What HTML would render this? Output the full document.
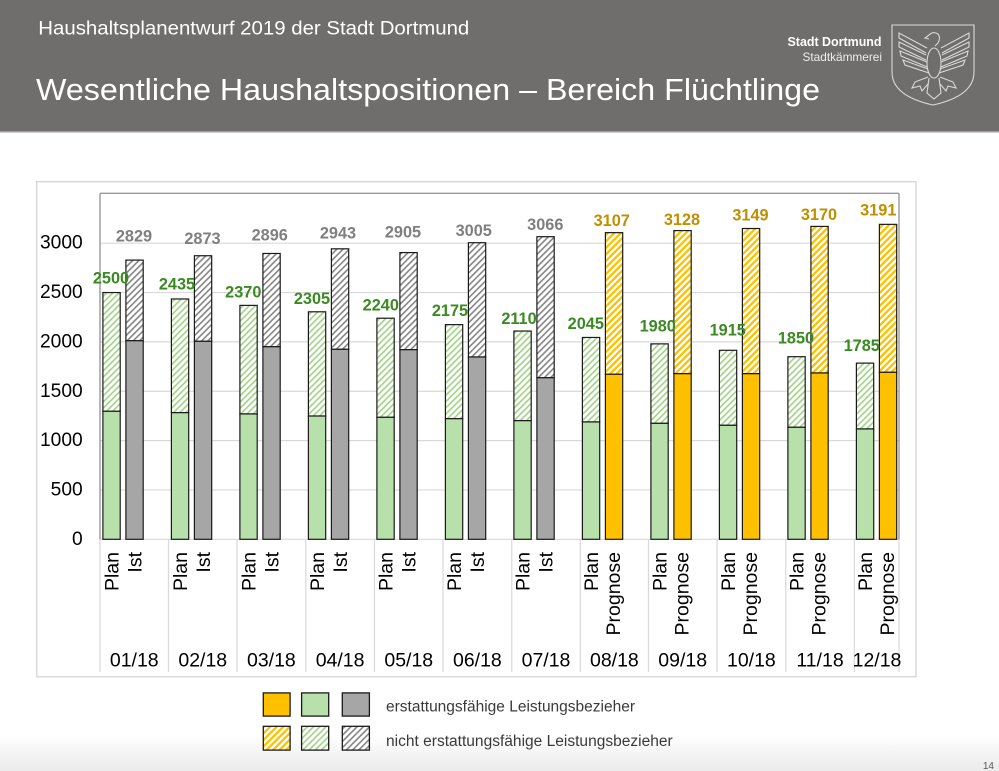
<!DOCTYPE html>
<html>
<head>
<meta charset="utf-8">
<style>
html,body{margin:0;padding:0;background:#fff;}
body{width:999px;height:771px;overflow:hidden;}
svg{display:block;}
text{font-family:"Liberation Sans",Arial,sans-serif;}
</style>
</head>
<body>
<svg width="999" height="771" viewBox="0 0 999 771" xmlns="http://www.w3.org/2000/svg">
<defs>
  <pattern id="hg" patternUnits="userSpaceOnUse" width="4.4" height="4.4" patternTransform="rotate(45)">
    <rect width="4.4" height="4.4" fill="#ffffff"/>
    <rect width="1.7" height="4.4" fill="#a6d38c"/>
  </pattern>
  <pattern id="hk" patternUnits="userSpaceOnUse" width="4.4" height="4.4" patternTransform="rotate(45)">
    <rect width="4.4" height="4.4" fill="#ffffff"/>
    <rect width="1.6" height="4.4" fill="#858585"/>
  </pattern>
  <pattern id="ho" patternUnits="userSpaceOnUse" width="4.6" height="4.6" patternTransform="rotate(45)">
    <rect width="4.6" height="4.6" fill="#ffffff"/>
    <rect width="2.3" height="4.6" fill="#ffc000"/>
  </pattern>
  <linearGradient id="bg" x1="0" y1="0" x2="0" y2="1">
    <stop offset="0" stop-color="#ffffff"/>
    <stop offset="1" stop-color="#ebebeb"/>
  </linearGradient>
</defs>

<!-- page background -->
<rect x="0" y="0" width="999" height="771" fill="#ffffff"/>
<rect x="0" y="735" width="999" height="36" fill="url(#bg)"/>

<!-- header -->
<rect x="0" y="0" width="999" height="131.5" fill="#6f6e6c"/>
<rect x="0" y="131.5" width="999" height="1.5" fill="#cfcfcf"/>
<text x="38.3" y="34.3" font-size="19.5" fill="#ffffff" textLength="431" lengthAdjust="spacingAndGlyphs">Haushaltsplanentwurf 2019 der Stadt Dortmund</text>
<text x="36" y="100" font-size="31" fill="#ffffff" textLength="784" lengthAdjust="spacingAndGlyphs">Wesentliche Haushaltspositionen – Bereich Flüchtlinge</text>
<text x="787.5" y="46" font-size="12.5" font-weight="bold" fill="#ffffff" textLength="94" lengthAdjust="spacingAndGlyphs">Stadt Dortmund</text>
<text x="802.5" y="61" font-size="12" fill="#ededed" textLength="79.5" lengthAdjust="spacingAndGlyphs">Stadtkämmerei</text>

<!-- shield logo -->
<g fill="none" stroke="#d9d9d9" stroke-width="1.1">
  <path d="M892,25 L974,25 L974,72 Q974,96 933,105 Q892,96 892,72 Z"/>
  <path d="M929,35 Q933,31 938,34 Q941,38 938,43 L935,46 M929,35 L925,38 L929,39"/>
  <ellipse cx="934" cy="63" rx="7" ry="15"/>
  <path d="M927,48 L899,33 L899,38 L926,53 M926,55 L899,42 L899,47 L926,60 M927,62 L900,51 L901,56 L927,67 M928,69 L903,60 L905,65 L929,73"/>
  <path d="M941,48 L969,33 L969,38 L942,53 M942,55 L969,42 L969,47 L942,60 M941,62 L968,51 L967,56 L941,67 M940,69 L965,60 L963,65 L939,73"/>
  <path d="M928,77 L915,82 L912,88 L920,86 L922,91 L928,84 M940,77 L953,82 L956,88 L948,86 L946,91 L940,84"/>
  <path d="M929,78 L927,93 L934,99 L941,93 L939,78"/>
</g>

<!-- chart outer box -->
<rect x="36.7" y="181.7" width="879.3" height="495" fill="#ffffff" stroke="#d9d9d9" stroke-width="1.5"/>

<!-- gridlines -->
<g stroke="#d9d9d9" stroke-width="1.2">
  <line x1="100" y1="489.95" x2="899" y2="489.95"/>
  <line x1="100" y1="440.6" x2="899" y2="440.6"/>
  <line x1="100" y1="391.25" x2="899" y2="391.25"/>
  <line x1="100" y1="341.9" x2="899" y2="341.9"/>
  <line x1="100" y1="292.55" x2="899" y2="292.55"/>
  <line x1="100" y1="243.2" x2="899" y2="243.2"/>
  <line x1="100" y1="539.3" x2="899" y2="539.3"/>
</g>

<!-- category separators -->
<g stroke="#d9d9d9" stroke-width="1.2">
  <line x1="100" y1="539" x2="100" y2="672"/>
  <line x1="168.5" y1="539" x2="168.5" y2="672"/>
  <line x1="237" y1="539" x2="237" y2="672"/>
  <line x1="305.8" y1="539" x2="305.8" y2="672"/>
  <line x1="374.5" y1="539" x2="374.5" y2="672"/>
  <line x1="443" y1="539" x2="443" y2="672"/>
  <line x1="511.8" y1="539" x2="511.8" y2="672"/>
  <line x1="580.3" y1="539" x2="580.3" y2="672"/>
  <line x1="648.5" y1="539" x2="648.5" y2="672"/>
  <line x1="717" y1="539" x2="717" y2="672"/>
  <line x1="785.8" y1="539" x2="785.8" y2="672"/>
  <line x1="854.3" y1="539" x2="854.3" y2="672"/>
  <line x1="899" y1="539" x2="899" y2="672"/>
</g>

<!-- plot border -->
<g stroke="#9a9a9a" stroke-width="1.4" fill="none">
  <line x1="100" y1="193.3" x2="899" y2="193.3"/>
  <line x1="100" y1="193.3" x2="100" y2="539.3"/>
  <line x1="899" y1="193.3" x2="899" y2="539.3"/>
</g>

<!-- bars -->
<g stroke="#1a1a1a" stroke-width="1.2">
  <!-- Plan bars -->
  <rect x="102.9" y="292.55" width="17.3" height="118.74" fill="url(#hg)"/>
  <rect x="102.9" y="411.29" width="17.3" height="128.01" fill="#b8e0aa"/>
  <rect x="171.4" y="298.97" width="17.3" height="113.70" fill="url(#hg)"/>
  <rect x="171.4" y="412.67" width="17.3" height="126.63" fill="#b8e0aa"/>
  <rect x="239.9" y="305.38" width="17.3" height="108.57" fill="url(#hg)"/>
  <rect x="239.9" y="413.95" width="17.3" height="125.35" fill="#b8e0aa"/>
  <rect x="308.4" y="311.80" width="17.3" height="104.22" fill="url(#hg)"/>
  <rect x="308.4" y="416.02" width="17.3" height="123.28" fill="#b8e0aa"/>
  <rect x="376.9" y="318.21" width="17.3" height="99.10" fill="url(#hg)"/>
  <rect x="376.9" y="417.31" width="17.3" height="121.99" fill="#b8e0aa"/>
  <rect x="445.4" y="324.63" width="17.3" height="94.06" fill="url(#hg)"/>
  <rect x="445.4" y="418.69" width="17.3" height="120.61" fill="#b8e0aa"/>
  <rect x="513.9" y="331.04" width="17.3" height="89.62" fill="url(#hg)"/>
  <rect x="513.9" y="420.66" width="17.3" height="118.64" fill="#b8e0aa"/>
  <rect x="582.4" y="337.46" width="17.3" height="84.49" fill="url(#hg)"/>
  <rect x="582.4" y="421.95" width="17.3" height="117.35" fill="#b8e0aa"/>
  <rect x="650.9" y="343.87" width="17.3" height="79.46" fill="url(#hg)"/>
  <rect x="650.9" y="423.33" width="17.3" height="115.97" fill="#b8e0aa"/>
  <rect x="719.4" y="350.29" width="17.3" height="75.01" fill="url(#hg)"/>
  <rect x="719.4" y="425.30" width="17.3" height="114.00" fill="#b8e0aa"/>
  <rect x="787.9" y="356.71" width="17.3" height="70.57" fill="url(#hg)"/>
  <rect x="787.9" y="427.28" width="17.3" height="112.02" fill="#b8e0aa"/>
  <rect x="856.4" y="363.12" width="17.3" height="65.83" fill="url(#hg)"/>
  <rect x="856.4" y="428.95" width="17.3" height="110.35" fill="#b8e0aa"/>

  <!-- Ist bars -->
  <rect x="125.9" y="260.08" width="17.3" height="80.64" fill="url(#hk)"/>
  <rect x="125.9" y="340.72" width="17.3" height="198.58" fill="#a6a6a6"/>
  <rect x="194.4" y="255.74" width="17.3" height="85.57" fill="url(#hk)"/>
  <rect x="194.4" y="341.31" width="17.3" height="197.99" fill="#a6a6a6"/>
  <rect x="262.9" y="253.46" width="17.3" height="93.28" fill="url(#hk)"/>
  <rect x="262.9" y="346.74" width="17.3" height="192.56" fill="#a6a6a6"/>
  <rect x="331.4" y="248.82" width="17.3" height="100.48" fill="url(#hk)"/>
  <rect x="331.4" y="349.30" width="17.3" height="190.00" fill="#a6a6a6"/>
  <rect x="399.9" y="252.58" width="17.3" height="97.12" fill="url(#hk)"/>
  <rect x="399.9" y="349.70" width="17.3" height="189.60" fill="#a6a6a6"/>
  <rect x="468.4" y="242.71" width="17.3" height="114.29" fill="url(#hk)"/>
  <rect x="468.4" y="357.00" width="17.3" height="182.30" fill="#a6a6a6"/>
  <rect x="536.9" y="236.69" width="17.3" height="141.04" fill="url(#hk)"/>
  <rect x="536.9" y="377.73" width="17.3" height="161.57" fill="#a6a6a6"/>

  <!-- Prognose bars -->
  <rect x="605.4" y="232.64" width="17.3" height="141.63" fill="url(#ho)"/>
  <rect x="605.4" y="374.27" width="17.3" height="165.03" fill="#ffc000"/>
  <rect x="673.9" y="230.57" width="17.3" height="143.11" fill="url(#ho)"/>
  <rect x="673.9" y="373.68" width="17.3" height="165.62" fill="#ffc000"/>
  <rect x="742.4" y="228.50" width="17.3" height="145.18" fill="url(#ho)"/>
  <rect x="742.4" y="373.68" width="17.3" height="165.62" fill="#ffc000"/>
  <rect x="810.9" y="226.42" width="17.3" height="146.57" fill="url(#ho)"/>
  <rect x="810.9" y="372.99" width="17.3" height="166.31" fill="#ffc000"/>
  <rect x="879.4" y="224.35" width="17.3" height="147.95" fill="url(#ho)"/>
  <rect x="879.4" y="372.30" width="17.3" height="167.00" fill="#ffc000"/>
</g>

<!-- value labels -->
<g font-size="16.3" font-weight="bold" text-anchor="middle">
  <g fill="#3b8a22">
    <text x="111" y="283.3">2500</text>
    <text x="177" y="289.3">2435</text>
    <text x="243.3" y="297.3">2370</text>
    <text x="312" y="304">2305</text>
    <text x="380.8" y="310.7">2240</text>
    <text x="450" y="316">2175</text>
    <text x="519" y="324">2110</text>
    <text x="585.8" y="329">2045</text>
    <text x="657.7" y="331.7">1980</text>
    <text x="727.7" y="335.7">1915</text>
    <text x="796" y="343.3">1850</text>
    <text x="861.7" y="351">1785</text>
  </g>
  <g fill="#7f7f7f">
    <text x="134" y="241.7">2829</text>
    <text x="202.5" y="244">2873</text>
    <text x="269.7" y="240.7">2896</text>
    <text x="338" y="238.3">2943</text>
    <text x="403" y="237.3">2905</text>
    <text x="473.7" y="236">3005</text>
    <text x="545.3" y="230">3066</text>
  </g>
  <g fill="#bf8f00">
    <text x="611.7" y="226">3107</text>
    <text x="682" y="225">3128</text>
    <text x="750.5" y="220.7">3149</text>
    <text x="819" y="220">3170</text>
    <text x="878.3" y="215.7">3191</text>
  </g>
</g>

<!-- y axis labels -->
<g font-size="19.2" fill="#000000" text-anchor="end">
  <text x="82.7" y="544.8">0</text>
  <text x="82.7" y="495.5">500</text>
  <text x="82.7" y="446.1">1000</text>
  <text x="82.7" y="396.8">1500</text>
  <text x="82.7" y="347.4">2000</text>
  <text x="82.7" y="298.1">2500</text>
  <text x="82.7" y="248.7">3000</text>
</g>

<!-- rotated category labels -->
<g font-size="19.5" fill="#000000" text-anchor="end">
  <text transform="translate(118.4,552) rotate(-90)">Plan</text>
  <text transform="translate(186.9,552) rotate(-90)">Plan</text>
  <text transform="translate(255.4,552) rotate(-90)">Plan</text>
  <text transform="translate(323.9,552) rotate(-90)">Plan</text>
  <text transform="translate(392.4,552) rotate(-90)">Plan</text>
  <text transform="translate(460.9,552) rotate(-90)">Plan</text>
  <text transform="translate(529.4,552) rotate(-90)">Plan</text>
  <text transform="translate(597.9,552) rotate(-90)">Plan</text>
  <text transform="translate(666.4,552) rotate(-90)">Plan</text>
  <text transform="translate(734.9,552) rotate(-90)">Plan</text>
  <text transform="translate(803.4,552) rotate(-90)">Plan</text>
  <text transform="translate(871.9,552) rotate(-90)">Plan</text>

  <text transform="translate(141.4,552) rotate(-90)">Ist</text>
  <text transform="translate(209.9,552) rotate(-90)">Ist</text>
  <text transform="translate(278.4,552) rotate(-90)">Ist</text>
  <text transform="translate(346.9,552) rotate(-90)">Ist</text>
  <text transform="translate(415.4,552) rotate(-90)">Ist</text>
  <text transform="translate(483.9,552) rotate(-90)">Ist</text>
  <text transform="translate(552.4,552) rotate(-90)">Ist</text>
  <text transform="translate(620.2,552) rotate(-90)">Prognose</text>
  <text transform="translate(688.7,552) rotate(-90)">Prognose</text>
  <text transform="translate(757.2,552) rotate(-90)">Prognose</text>
  <text transform="translate(825.7,552) rotate(-90)">Prognose</text>
  <text transform="translate(894.2,552) rotate(-90)">Prognose</text>
</g>

<!-- month labels -->
<g font-size="19.5" fill="#000000" text-anchor="middle">
  <text x="134.25" y="666.7">01/18</text>
  <text x="202.75" y="666.7">02/18</text>
  <text x="271.4" y="666.7">03/18</text>
  <text x="340.1" y="666.7">04/18</text>
  <text x="408.75" y="666.7">05/18</text>
  <text x="477.4" y="666.7">06/18</text>
  <text x="546" y="666.7">07/18</text>
  <text x="614.4" y="666.7">08/18</text>
  <text x="682.7" y="666.7">09/18</text>
  <text x="751.4" y="666.7">10/18</text>
  <text x="820" y="666.7">11/18</text>
  <text x="877" y="666.7">12/18</text>
</g>

<!-- legend -->
<g stroke="#1a1a1a" stroke-width="1.3">
  <rect x="263.3" y="692.9" width="26.8" height="23.2" fill="#ffc000"/>
  <rect x="301.6" y="692.9" width="27.1" height="23.2" fill="#b8e0aa"/>
  <rect x="342.3" y="692.9" width="27.1" height="23.2" fill="#a6a6a6"/>
  <rect x="263.3" y="726.3" width="26.8" height="23.8" fill="url(#ho)"/>
  <rect x="301.6" y="726.3" width="27.1" height="23.8" fill="url(#hg)"/>
  <rect x="342.3" y="726.3" width="27.1" height="23.8" fill="url(#hk)"/>
</g>
<g font-size="15.5" fill="#3a3a3a">
  <text x="386" y="711.7" textLength="249" lengthAdjust="spacingAndGlyphs">erstattungsfähige Leistungsbezieher</text>
  <text x="386" y="746" textLength="286.7" lengthAdjust="spacingAndGlyphs">nicht erstattungsfähige Leistungsbezieher</text>
</g>

<!-- page number -->
<text x="994" y="769" font-size="10" fill="#595959" text-anchor="end">14</text>
</svg>
</body>
</html>
